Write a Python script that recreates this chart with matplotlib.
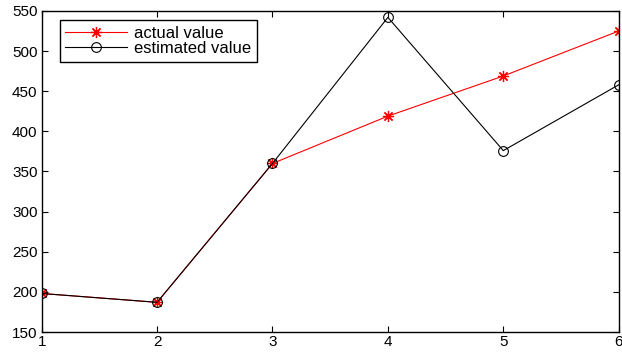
import matplotlib
matplotlib.use("Agg")
import matplotlib.pyplot as plt

x = [1, 2, 3, 4, 5, 6]
actual = [198, 187, 360, 419, 469, 525]
estimated = [198, 187, 360, 542, 376, 458]
xticks = [1, 2, 3, 4, 5, 6]
yticks = [150, 200, 250, 300, 350, 400, 450, 500, 550]

plt.rcParams['font.family'] = ['Liberation Sans', 'DejaVu Sans']
fig = plt.figure(figsize=(6.22, 3.54), dpi=100)
ax = fig.add_axes([0.067, 0.0621, 0.9277, 0.9069])

ax.plot(x, actual, color='red', linestyle='-', marker=(8, 2, 0), markersize=8,
        linewidth=0.8, markeredgewidth=0.9, label='actual value')
ax.plot(x, estimated, color='black', linestyle='-', marker='o', markersize=7,
        markerfacecolor='none', linewidth=0.8, markeredgewidth=0.8,
        label='estimated value')

ax.set_xlim(1, 6)
ax.set_ylim(150, 550)
ax.set_xticks(xticks)
ax.set_yticks(yticks)
ax.tick_params(direction='in', top=True, right=True, labelsize=11,
               length=4, width=0.8, pad=3)
for s in ax.spines.values():
    s.set_linewidth(1.0)
ax.get_xaxis().set_tick_params(pad=2)

leg = ax.legend(loc='upper left', bbox_to_anchor=(0.031, 0.972), fancybox=False,
                framealpha=1, edgecolor='black', fontsize=12,
                handlelength=3.7, borderpad=0.35, labelspacing=0.0,
                handletextpad=0.4, borderaxespad=0)
leg.get_frame().set_linewidth(1.0)

fig.savefig('out.png', dpi=100)
